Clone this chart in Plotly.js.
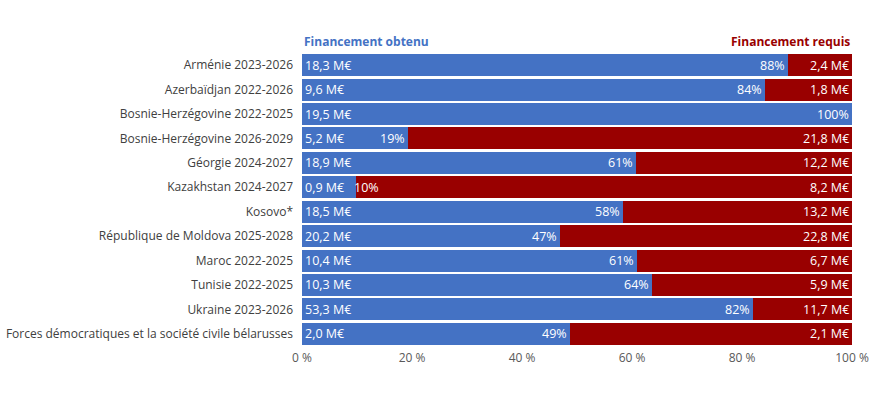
<!DOCTYPE html>
<html>
<head>
<meta charset="utf-8">
<script src="https://cdn.plot.ly/plotly-3.0.1.min.js"></script>
<style>
  html, body { margin: 0; padding: 0; background: #fff; }
  #chart { width: 870px; height: 400px; }
</style>
</head>
<body>
<div id="chart"></div>
<script>
var programmes = [
    "Arménie 2023-2026",
    "Azerbaïdjan 2022-2026",
    "Bosnie-Herzégovine 2022-2025",
    "Bosnie-Herzégovine 2026-2029",
    "Géorgie 2024-2027",
    "Kazakhstan 2024-2027",
    "Kosovo*",
    "République de Moldova 2025-2028",
    "Maroc 2022-2025",
    "Tunisie 2022-2025",
    "Ukraine 2023-2026",
    "Forces démocratiques et la société civile bélarusses"
];
// millions d'euros
var obtenu = [18.3, 9.6, 19.5, 5.2, 18.9, 0.9, 18.5, 20.2, 10.4, 10.3, 53.3, 2.0];
var requis = [2.4, 1.8, 0, 21.8, 12.2, 8.2, 13.2, 22.8, 6.7, 5.9, 11.7, 2.1];

var tickVals = [0, 20, 40, 60, 80, 100];
var tickLabels = ["0 %", "20 %", "40 %", "60 %", "80 %", "100 %"];

var BLUE = "#4472C4";
var RED = "#990000";

function fr(v) { return v.toFixed(1).replace(".", ",") + " M€"; }

var partObtenu = obtenu.map(function (v, i) { return 100 * v / (v + requis[i]); });
var partRequis = partObtenu.map(function (p) { return 100 - p; });

var data = [
    {
        type: 'bar', orientation: 'h',
        y: programmes, x: partObtenu,
        marker: { color: BLUE },
        hoverinfo: 'skip'
    },
    {
        type: 'bar', orientation: 'h',
        y: programmes, x: partRequis,
        marker: { color: RED },
        hoverinfo: 'skip'
    }
];

var labelFont = { family: "Open Sans, sans-serif", size: 12.5, color: "#ffffff" };
var annotations = [];
programmes.forEach(function (p, i) {
    annotations.push({
        x: 0, y: p, xref: 'x', yref: 'y', text: fr(obtenu[i]),
        xanchor: 'left', xshift: 1, showarrow: false, font: labelFont
    });
    var pct = Math.round(partObtenu[i]);
    var short = partObtenu[i] < 15;
    annotations.push({
        x: partObtenu[i], y: p, xref: 'x', yref: 'y', text: pct + "%",
        xanchor: short ? 'left' : 'right', xshift: short ? -4 : -1,
        showarrow: false, font: labelFont
    });
    if (requis[i] > 0) {
        annotations.push({
            x: 100, y: p, xref: 'x', yref: 'y', text: fr(requis[i]),
            xanchor: 'right', xshift: -1, showarrow: false, font: labelFont
        });
    }
});
annotations.push({
    x: 0, y: 1, xref: 'paper', yref: 'paper', yanchor: 'bottom', yshift: 1,
    xanchor: 'left', text: "<b>Financement obtenu</b>", showarrow: false,
    font: { family: "Open Sans, sans-serif", size: 12, color: BLUE }
});
annotations.push({
    x: 1, y: 1, xref: 'paper', yref: 'paper', yanchor: 'bottom', yshift: 1,
    xanchor: 'right', text: "<b>Financement requis</b>", showarrow: false,
    font: { family: "Open Sans, sans-serif", size: 12, color: RED }
});

var layout = {
    width: 870, height: 400,
    margin: { l: 302, r: 18, t: 53, b: 54 },
    barmode: 'stack', bargap: 0.1,
    showlegend: false,
    paper_bgcolor: '#fff', plot_bgcolor: '#fff',
    font: { family: "Open Sans, sans-serif", size: 12, color: "#404040" },
    xaxis: {
        range: [0, 100], tickvals: tickVals, ticktext: tickLabels,
        showgrid: false, zeroline: false, showline: false, fixedrange: true,
        ticklabelstandoff: 3,
        tickfont: { size: 12, color: "#595959" }
    },
    yaxis: {
        autorange: 'reversed', showgrid: false, zeroline: false, showline: false,
        ticklabelstandoff: 8, tickfont: { size: 12, color: "#404040" }
    },
    annotations: annotations
};

Plotly.newPlot('chart', data, layout, { displayModeBar: false, staticPlot: true });
</script>
</body>
</html>
